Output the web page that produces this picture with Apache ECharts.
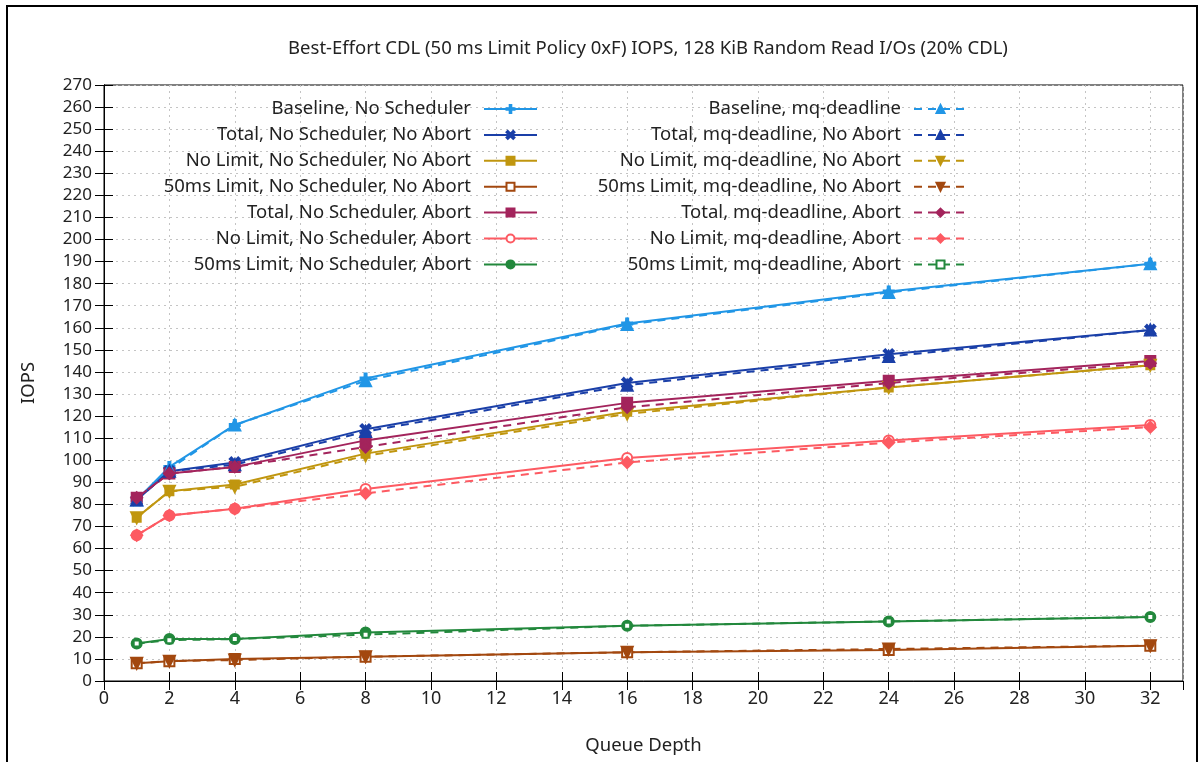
<!DOCTYPE html>
<html>
<head>
<meta charset="utf-8">
<script src="https://cdn.jsdelivr.net/npm/echarts@6/dist/echarts.min.js"></script>
<style>
html,body{margin:0;padding:0;background:#fff;}
#chart{width:1203px;height:762px;}
</style>
</head>
<body>
<div id="chart"></div>
<script>
const titleText = 'Best-Effort CDL (50 ms Limit Policy 0xF) IOPS, 128 KiB Random Read I/Os (20% CDL)';
const queueDepth = [1, 2, 4, 8, 16, 24, 32];

const baselineNoSched       = [82, 97, 116, 137, 162, 176.5, 189];
const totalNoSchedNoAbort   = [82, 95, 99, 114, 135, 148, 159];
const noLimitNoSchedNoAbort = [74, 86, 89, 103, 122, 133, 143];
const limitNoSchedNoAbort   = [8, 9, 10, 11, 13, 14, 16];
const totalNoSchedAbort     = [83, 94, 97, 109, 126, 136, 145];
const noLimitNoSchedAbort   = [66, 75, 78, 87, 101, 109, 116];
const limitNoSchedAbort     = [17, 19, 19, 22, 25, 27, 29];

const baselineMq            = [82, 96, 116, 136, 161.5, 176, 189];
const totalMqNoAbort        = [82, 95, 98, 113, 134, 147, 159];
const noLimitMqNoAbort      = [74, 86, 88, 102, 121, 133, 143];
const limitMqNoAbort        = [8, 9, 9.5, 11, 13, 14.5, 16];
const totalMqAbort          = [83, 94, 97, 106, 124, 135, 144];
const noLimitMqAbort        = [66, 75, 78, 85, 99, 108, 115];
const limitMqAbort          = [17, 18.5, 19, 21, 25, 27, 29];

const namesNoSched = [
  'Baseline, No Scheduler',
  'Total, No Scheduler, No Abort',
  'No Limit, No Scheduler, No Abort',
  '50ms Limit, No Scheduler, No Abort',
  'Total, No Scheduler, Abort',
  'No Limit, No Scheduler, Abort',
  '50ms Limit, No Scheduler, Abort'
];
const namesMq = [
  'Baseline, mq-deadline',
  'Total, mq-deadline, No Abort',
  'No Limit, mq-deadline, No Abort',
  '50ms Limit, mq-deadline, No Abort',
  'Total, mq-deadline, Abort',
  'No Limit, mq-deadline, Abort',
  '50ms Limit, mq-deadline, Abort'
];
const valuesNoSched = [baselineNoSched, totalNoSchedNoAbort, noLimitNoSchedNoAbort, limitNoSchedNoAbort, totalNoSchedAbort, noLimitNoSchedAbort, limitNoSchedAbort];
const valuesMq = [baselineMq, totalMqNoAbort, noLimitMqNoAbort, limitMqNoAbort, totalMqAbort, noLimitMqAbort, limitMqAbort];

const colors = ['#2196e6', '#1a3fa8', '#c0960f', '#a3480f', '#a3245c', '#fd5a62', '#22883c'];

const PLUS = 'path://M4,0H6V4H10V6H6V10H4V6H0V4H4Z';
const CROSS = 'path://M0,1.6L1.6,0L5,3.4L8.4,0L10,1.6L6.6,5L10,8.4L8.4,10L5,6.6L1.6,10L0,8.4L3.4,5Z';
const symNoSched = [PLUS, CROSS, 'rect', 'emptyRect', 'rect', 'emptyCircle', 'circle'];
const sizeNoSched = [10, 10, 8, 10, 10, 10, 10];
const symMq = ['triangle', 'triangle', 'path://M0,0H10L5,10Z', 'path://M0,0H10L5,10Z', 'diamond', 'diamond', 'emptyRect'];
const sizeMq = [11, 11, 11, 11, 11, 11, 6];

const series = [];
function addSeries(name, vals, color, sym, size, dashed) {
  series.push({
    name: name,
    type: 'line',
    data: queueDepth.map((q, i) => [q, vals[i]]),
    symbol: sym,
    symbolSize: size,
    showSymbol: true,
    lineStyle: { color: color, width: 2, type: dashed ? [8, 6] : 'solid' },
    itemStyle: { color: color, borderColor: color, borderWidth: 2 },
    emphasis: { disabled: true },
    animation: false
  });
}
for (let i = 0; i < 7; i++) addSeries(namesNoSched[i], valuesNoSched[i], colors[i], symNoSched[i], sizeNoSched[i], false);
for (let i = 0; i < 7; i++) addSeries(namesMq[i], valuesMq[i], colors[i], symMq[i], sizeMq[i], true);

const FS = 18.5;
const legends = [];
function addLegend(name, right, row) {
  legends.push({
    data: [name],
    right: right,
    top: 99.5 + row * 25.9,
    align: 'right',
    orient: 'horizontal',
    padding: 0,
    itemWidth: 53,
    itemHeight: 10,
    selectedMode: false,
    textStyle: { fontFamily: 'Noto Sans', fontSize: FS, color: '#222', padding: [0, 8, 0, 0] }
  });
}
for (let i = 0; i < 7; i++) addLegend(namesNoSched[i], 665, i);
for (let i = 0; i < 7; i++) addLegend(namesMq[i], 235, i);

const tickColor = '#000';
const gridLine = { show: true, lineStyle: { color: '#c4c4c4', type: [2, 4], width: 1 } };

const option = {
  backgroundColor: '#fff',
  animation: false,
  title: {
    text: titleText,
    left: 643, textAlign: 'center',
    top: 34,
    textStyle: { fontFamily: 'Noto Sans', fontSize: FS, fontWeight: 'normal', color: '#222' }
  },
  legend: legends,
  grid: { left: 104, right: 20, top: 85, bottom: 81, show: true, borderColor: '#000', borderWidth: 1, backgroundColor: 'transparent' },
  xAxis: [{
    type: 'value', min: 0, max: 33, interval: 2,
    name: 'Queue Depth', nameLocation: 'middle', nameGap: 55,
    nameTextStyle: { fontFamily: 'Noto Sans', fontSize: FS, color: '#222' },
    axisLine: { show: true, lineStyle: { color: tickColor, width: 1 } },
    axisTick: { show: true, inside: true, length: 9, lineStyle: { color: tickColor } },
    axisLabel: { fontFamily: 'Noto Sans', fontSize: 18, color: '#222', margin: 9, showMaxLabel: false,
      formatter: v => (v % 2 === 0 && v <= 32) ? String(v) : '' },
    splitLine: gridLine
  }, {
    type: 'value', min: 0, max: 33, interval: 2, position: 'top',
    axisLine: { show: true, lineStyle: { color: tickColor } },
    axisTick: { show: true, inside: true, length: 9, lineStyle: { color: tickColor } },
    axisLabel: { show: false },
    splitLine: { show: false }
  }],
  yAxis: [{
    type: 'value', min: 0, max: 270, interval: 10,
    name: 'IOPS', nameLocation: 'middle', nameGap: 66,
    nameTextStyle: { fontFamily: 'Noto Sans', fontSize: FS, color: '#222' },
    axisLine: { show: true, lineStyle: { color: tickColor, width: 1 } },
    axisTick: { show: true, inside: true, length: 9, lineStyle: { color: tickColor } },
    axisLabel: { fontFamily: 'Noto Sans', fontSize: 17, color: '#222', margin: 12 },
    splitLine: gridLine
  }, {
    type: 'value', min: 0, max: 270, interval: 10, position: 'right',
    axisLine: { show: true, lineStyle: { color: tickColor } },
    axisTick: { show: true, inside: true, length: 9, lineStyle: { color: tickColor } },
    axisLabel: { show: false },
    splitLine: { show: false }
  }],
  graphic: [{
    type: 'rect',
    shape: { x: 7, y: 6, width: 1190, height: 800 },
    style: { fill: 'none', stroke: '#000', lineWidth: 2 },
    silent: true
  }],
  series: series
};

const chart = echarts.init(document.getElementById('chart'), null, { renderer: 'canvas' });
chart.setOption(option);
</script>
</body>
</html>
